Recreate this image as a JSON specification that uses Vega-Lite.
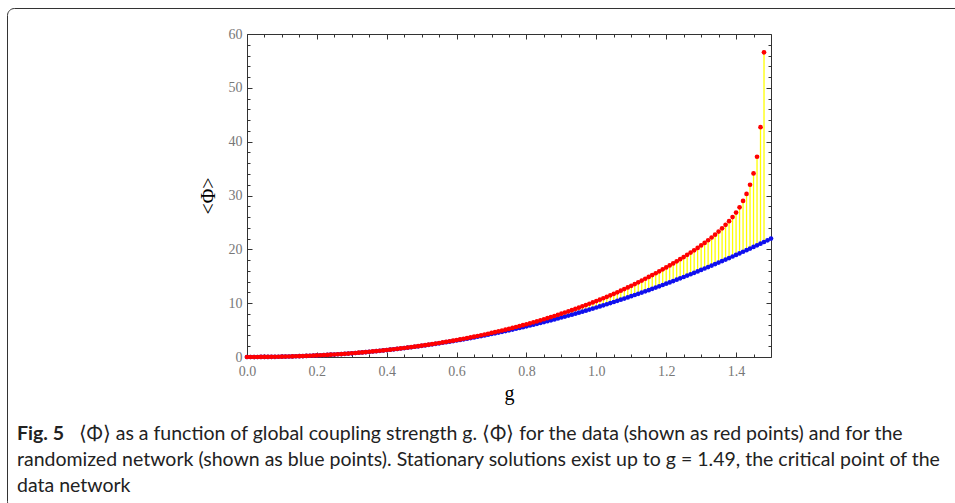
{
"$schema": "https://vega.github.io/schema/vega-lite/v6.json",
"width": 960,
"height": 500,
"autosize": {"type": "none"},
"padding": {"left": 7, "top": 8, "right": 0, "bottom": 0},
"background": "white",
"config": {
  "view": {"stroke": "#333333", "strokeWidth": 1, "cornerRadius": 7, "fill": "white"},
  "axis": {"grid": false, "labelFlush": false, "labelFont": "Liberation Serif", "labelFontSize": 14, "labelColor": "#777777", "titleFont": "Liberation Serif", "titleFontSize": 20, "titleColor": "#000000", "titleFontWeight": "normal", "domainColor": "#333333", "tickColor": "#333333", "domainWidth": 1, "tickWidth": 1}
},
"title": {
  "text": "Fig. 5",
  "subtitle": ["randomized network (shown as blue points). Stationary solutions exist up to g = 1.49, the critical point of the", "data network"],
  "orient": "top", "anchor": "start", "frame": "group",
  "offset": -488, "dx": 10,
  "font": "Lato", "fontSize": 19.5, "fontWeight": "bold", "color": "#222222",
  "subtitleFont": "Lato", "subtitleFontSize": 19.5, "subtitleColor": "#222222", "subtitleLineHeight": 26, "subtitlePadding": 6
},
"data": {"values": [
{"g":0,"blue":0,"red":0},{"g":0.01,"blue":0.0005,"red":0.0005},{"g":0.02,"blue":0.002,"red":0.002},{"g":0.03,"blue":0.005,"red":0.005},{"g":0.04,"blue":0.009,"red":0.009},{"g":0.05,"blue":0.015,"red":0.015},{"g":0.06,"blue":0.022,"red":0.022},{"g":0.07,"blue":0.03,"red":0.03},{"g":0.08,"blue":0.04,"red":0.04},{"g":0.09,"blue":0.052,"red":0.052},
{"g":0.1,"blue":0.065,"red":0.065},{"g":0.11,"blue":0.08,"red":0.08},{"g":0.12,"blue":0.096,"red":0.096},{"g":0.13,"blue":0.114,"red":0.114},{"g":0.14,"blue":0.134,"red":0.134},{"g":0.15,"blue":0.156,"red":0.156},{"g":0.16,"blue":0.179,"red":0.179},{"g":0.17,"blue":0.204,"red":0.204},{"g":0.18,"blue":0.23,"red":0.23},{"g":0.19,"blue":0.259,"red":0.259},
{"g":0.2,"blue":0.289,"red":0.289},{"g":0.21,"blue":0.321,"red":0.321},{"g":0.22,"blue":0.355,"red":0.355},{"g":0.23,"blue":0.39,"red":0.39},{"g":0.24,"blue":0.428,"red":0.428},{"g":0.25,"blue":0.467,"red":0.467},{"g":0.26,"blue":0.508,"red":0.508},{"g":0.27,"blue":0.551,"red":0.551},{"g":0.28,"blue":0.596,"red":0.596},{"g":0.29,"blue":0.643,"red":0.643},
{"g":0.3,"blue":0.691,"red":0.696},{"g":0.31,"blue":0.742,"red":0.748},{"g":0.32,"blue":0.794,"red":0.8},{"g":0.33,"blue":0.849,"red":0.856},{"g":0.34,"blue":0.905,"red":0.912},{"g":0.35,"blue":0.964,"red":0.972},{"g":0.36,"blue":1.023,"red":1.032},{"g":0.37,"blue":1.086,"red":1.095},{"g":0.38,"blue":1.149,"red":1.159},{"g":0.39,"blue":1.216,"red":1.227},
{"g":0.4,"blue":1.283,"red":1.295},{"g":0.41,"blue":1.353,"red":1.366},{"g":0.42,"blue":1.425,"red":1.439},{"g":0.43,"blue":1.499,"red":1.515},{"g":0.44,"blue":1.574,"red":1.592},{"g":0.45,"blue":1.652,"red":1.672},{"g":0.46,"blue":1.733,"red":1.755},{"g":0.47,"blue":1.815,"red":1.839},{"g":0.48,"blue":1.899,"red":1.925},{"g":0.49,"blue":1.986,"red":2.014},
{"g":0.5,"blue":2.073,"red":2.103},{"g":0.51,"blue":2.163,"red":2.197},{"g":0.52,"blue":2.254,"red":2.293},{"g":0.53,"blue":2.349,"red":2.392},{"g":0.54,"blue":2.444,"red":2.491},{"g":0.55,"blue":2.544,"red":2.596},{"g":0.56,"blue":2.643,"red":2.701},{"g":0.57,"blue":2.747,"red":2.812},{"g":0.58,"blue":2.85,"red":2.921},{"g":0.59,"blue":2.959,"red":3.037},
{"g":0.6,"blue":3.068,"red":3.153},{"g":0.61,"blue":3.177,"red":3.271},{"g":0.62,"blue":3.289,"red":3.392},{"g":0.63,"blue":3.407,"red":3.519},{"g":0.64,"blue":3.523,"red":3.645},{"g":0.65,"blue":3.642,"red":3.773},{"g":0.66,"blue":3.763,"red":3.906},{"g":0.67,"blue":3.886,"red":4.041},{"g":0.68,"blue":4.016,"red":4.183},{"g":0.69,"blue":4.144,"red":4.323},
{"g":0.7,"blue":4.273,"red":4.465},{"g":0.71,"blue":4.406,"red":4.615},{"g":0.72,"blue":4.54,"red":4.766},{"g":0.73,"blue":4.677,"red":4.921},{"g":0.74,"blue":4.816,"red":5.078},{"g":0.75,"blue":4.958,"red":5.238},{"g":0.76,"blue":5.101,"red":5.402},{"g":0.77,"blue":5.247,"red":5.569},{"g":0.78,"blue":5.396,"red":5.739},{"g":0.79,"blue":5.541,"red":5.906},
{"g":0.8,"blue":5.694,"red":6.08},{"g":0.81,"blue":5.849,"red":6.263},{"g":0.82,"blue":6.007,"red":6.448},{"g":0.83,"blue":6.16,"red":6.629},{"g":0.84,"blue":6.323,"red":6.821},{"g":0.85,"blue":6.488,"red":7.015},{"g":0.86,"blue":6.655,"red":7.216},{"g":0.87,"blue":6.817,"red":7.414},{"g":0.88,"blue":6.989,"red":7.621},{"g":0.89,"blue":7.163,"red":7.832},
{"g":0.9,"blue":7.335,"red":8.041},{"g":0.91,"blue":7.512,"red":8.261},{"g":0.92,"blue":7.693,"red":8.486},{"g":0.93,"blue":7.869,"red":8.706},{"g":0.94,"blue":8.056,"red":8.939},{"g":0.95,"blue":8.237,"red":9.166},{"g":0.96,"blue":8.428,"red":9.407},{"g":0.97,"blue":8.613,"red":9.644},{"g":0.98,"blue":8.809,"red":9.892},{"g":0.99,"blue":8.999,"red":10.136},
{"g":1,"blue":9.2,"red":10.391},{"g":1.01,"blue":9.399,"red":10.652},{"g":1.02,"blue":9.6,"red":10.916},{"g":1.03,"blue":9.803,"red":11.184},{"g":1.04,"blue":10.009,"red":11.456},{"g":1.05,"blue":10.217,"red":11.732},{"g":1.06,"blue":10.428,"red":12.022},{"g":1.07,"blue":10.641,"red":12.316},{"g":1.08,"blue":10.855,"red":12.614},{"g":1.09,"blue":11.073,"red":12.917},
{"g":1.1,"blue":11.292,"red":13.225},{"g":1.11,"blue":11.513,"red":13.543},{"g":1.12,"blue":11.738,"red":13.868},{"g":1.13,"blue":11.963,"red":14.197},{"g":1.14,"blue":12.192,"red":14.533},{"g":1.15,"blue":12.422,"red":14.874},{"g":1.16,"blue":12.656,"red":15.215},{"g":1.17,"blue":12.891,"red":15.561},{"g":1.18,"blue":13.129,"red":15.915},{"g":1.19,"blue":13.371,"red":16.278},
{"g":1.2,"blue":13.615,"red":16.647},{"g":1.21,"blue":13.859,"red":17.014},{"g":1.22,"blue":14.106,"red":17.39},{"g":1.23,"blue":14.356,"red":17.774},{"g":1.24,"blue":14.607,"red":18.167},{"g":1.25,"blue":14.861,"red":18.57},{"g":1.26,"blue":15.118,"red":18.976},{"g":1.27,"blue":15.377,"red":19.393},{"g":1.28,"blue":15.638,"red":19.821},{"g":1.29,"blue":15.904,"red":20.264},
{"g":1.3,"blue":16.171,"red":20.722},{"g":1.31,"blue":16.438,"red":21.193},{"g":1.32,"blue":16.708,"red":21.683},{"g":1.33,"blue":16.98,"red":22.194},{"g":1.34,"blue":17.255,"red":22.73},{"g":1.35,"blue":17.532,"red":23.291},{"g":1.36,"blue":17.812,"red":23.897},{"g":1.37,"blue":18.095,"red":24.544},{"g":1.38,"blue":18.379,"red":25.239},{"g":1.39,"blue":18.671,"red":25.998},
{"g":1.4,"blue":18.966,"red":26.832},{"g":1.41,"blue":19.258,"red":27.8},{"g":1.42,"blue":19.551,"red":29.0},{"g":1.43,"blue":19.848,"red":30.3},{"g":1.44,"blue":20.146,"red":32.0},{"g":1.45,"blue":20.448,"red":34.1},{"g":1.46,"blue":20.75,"red":37.2},{"g":1.47,"blue":21.057,"red":42.7},{"g":1.48,"blue":21.365,"red":56.6},{"g":1.49,"blue":21.677},
{"g":1.5,"blue":21.998}
]},
"layer": [
  {
    "transform": [{"filter": "isValid(datum.red)"}],
    "mark": {"type": "rule", "color": "#ffff00", "strokeWidth": 1.3},
    "encoding": {
      "x": {"field": "g", "type": "quantitative", "scale": {"domain": [0, 1.5], "range": [240, 764], "nice": false, "zero": false},
            "axis": {"orient": "bottom", "offset": -151, "title": "g", "values": [0, 0.2, 0.4, 0.6, 0.8, 1.0, 1.2, 1.4], "format": ".1f", "tickSize": -5, "labelPadding": 12, "domain": true, "titlePadding": 5}},
      "y": {"field": "blue", "type": "quantitative", "scale": {"domain": [0, 60], "range": [349, 26], "nice": false, "zero": false},
            "axis": {"orient": "left", "offset": -240, "title": "<\u03a6>", "values": [0, 10, 20, 30, 40, 50, 60], "tickSize": -5, "labelPadding": 10, "domain": true, "titlePadding": 10}},
      "y2": {"field": "red"}
    }
  },
  {
    "mark": {"type": "circle", "color": "#1010ee", "size": 22, "opacity": 1},
    "encoding": {
      "x": {"field": "g", "type": "quantitative", "scale": {"domain": [0, 1.5], "range": [240, 764], "nice": false, "zero": false},
            "axis": {"orient": "bottom", "offset": -151, "title": null, "labels": false, "domain": false, "values": [0.05, 0.1, 0.15, 0.25, 0.3, 0.35, 0.45, 0.5, 0.55, 0.65, 0.7, 0.75, 0.85, 0.9, 0.95, 1.05, 1.1, 1.15, 1.25, 1.3, 1.35, 1.45], "tickSize": -3}},
      "y": {"field": "blue", "type": "quantitative", "scale": {"domain": [0, 60], "range": [349, 26], "nice": false, "zero": false},
            "axis": {"orient": "left", "offset": -240, "title": null, "labels": false, "domain": false, "values": [2, 4, 6, 8, 12, 14, 16, 18, 22, 24, 26, 28, 32, 34, 36, 38, 42, 44, 46, 48, 52, 54, 56, 58], "tickSize": -3}}
    }
  },
  {
    "transform": [{"filter": "isValid(datum.red)"}],
    "mark": {"type": "circle", "color": "#ff0000", "size": 22, "opacity": 1},
    "encoding": {
      "x": {"field": "g", "type": "quantitative", "scale": {"domain": [0, 1.5], "range": [240, 764], "nice": false, "zero": false},
            "axis": {"orient": "top", "offset": -26, "title": null, "labels": false, "domain": true, "values": [0, 0.2, 0.4, 0.6, 0.8, 1.0, 1.2, 1.4], "tickSize": -5}},
      "y": {"field": "red", "type": "quantitative", "scale": {"domain": [0, 60], "range": [349, 26], "nice": false, "zero": false},
            "axis": {"orient": "right", "offset": -196, "title": null, "labels": false, "domain": true, "values": [0, 10, 20, 30, 40, 50, 60], "tickSize": -5}}
    }
  },
  {
    "mark": {"type": "circle", "opacity": 0, "size": 1},
    "encoding": {
      "x": {"field": "g", "type": "quantitative", "scale": {"domain": [0, 1.5], "range": [240, 764], "nice": false, "zero": false},
            "axis": {"orient": "top", "offset": -26, "labels": false, "domain": false, "values": [0.05, 0.1, 0.15, 0.25, 0.3, 0.35, 0.45, 0.5, 0.55, 0.65, 0.7, 0.75, 0.85, 0.9, 0.95, 1.05, 1.1, 1.15, 1.25, 1.3, 1.35, 1.45], "tickSize": -3,
                     "title": "\u27e8\u03a6\u27e9 as a function of global coupling strength g. \u27e8\u03a6\u27e9 for the data (shown as red points) and for the",
                     "titleX": 71, "titleY": 405, "titleAlign": "left", "titleAnchor": "start", "titleAngle": 0, "titleBaseline": "alphabetic", "titleFont": "Lato", "titleFontSize": 19.5, "titleColor": "#222222", "titleLimit": 2000}},
      "y": {"field": "blue", "type": "quantitative", "scale": {"domain": [0, 60], "range": [349, 26], "nice": false, "zero": false},
            "axis": {"orient": "right", "offset": -196, "title": null, "labels": false, "domain": false, "values": [2, 4, 6, 8, 12, 14, 16, 18, 22, 24, 26, 28, 32, 34, 36, 38, 42, 44, 46, 48, 52, 54, 56, 58], "tickSize": -3}}
    }
  }
],
"resolve": {"axis": {"x": "independent", "y": "independent"}}
}
